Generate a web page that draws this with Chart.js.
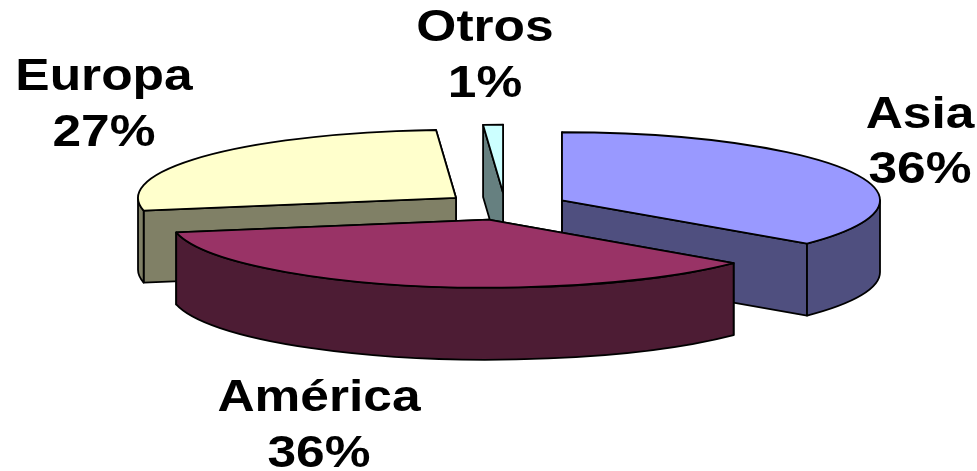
<!DOCTYPE html>
<html><head><meta charset="utf-8">
<style>html,body{margin:0;padding:0;background:#fff}#w{width:977px;height:471px}</style>
<script src="https://cdn.jsdelivr.net/npm/chart.js@4"></script>
</head><body><div id="w"><canvas id="c" width="977" height="471"></canvas></div>
<script>
// Back-to-front drawing order; Asia starts at twelve o'clock.
const categories = ['Europa', 'Otros', 'Asia', 'América'];
const shares = [27, 1, 36, 36];
const topColors = ['#FFFFCC', '#CCFFFF', '#9999FF', '#993366'];
const wallColors = ['#808066', '#668080', '#4F4F7F', '#4D1C34'];
const explosion = [62, 62, 63, 66];
const labelAnchors = [[104, 90, 146], [485, 41, 97], [920, 128, 183], [319, 411, 467]];

const view = { cx: 505, cy: 206, rx: 318, ry: 68, depth: 72, line: 1.8 };
const total = shares.reduce((a, b) => a + b, 0);
const rotation = -360 * (shares[0] + shares[1]) / total;

const pie3d = {
  id: 'pie3d',
  beforeDatasetDraw(chart) {
    const ctx = chart.ctx;
    chart.getDatasetMeta(0).data.forEach((arc, i) => {
      const { x, y, startAngle: a0, endAngle: a1, outerRadius: r } = arc.getProps(['x', 'y', 'startAngle', 'endAngle', 'outerRadius'], true);
      const mid = (a0 + a1) / 2;
      const ox = view.cx + Math.cos(mid) * explosion[i];
      const oy = view.cy + Math.sin(mid) * explosion[i] * view.ry / view.rx;
      const D = view.depth;
      const px = a => ox + view.rx * Math.cos(a), py = a => oy + view.ry * Math.sin(a);
      ctx.save();
      ctx.lineWidth = view.line;
      ctx.strokeStyle = '#000';
      ctx.lineJoin = 'round';
      ctx.fillStyle = wallColors[i];
      // cut faces: the far one first
      [a1, a0].forEach(a => {
        ctx.beginPath();
        ctx.moveTo(ox, oy); ctx.lineTo(px(a), py(a));
        ctx.lineTo(px(a), py(a) + D); ctx.lineTo(ox, oy + D);
        ctx.closePath(); ctx.fill(); ctx.stroke();
      });
      // outer wall, front half only
      for (let k = -2; k <= 2; k++) {
        const s = Math.max(a0, 2 * Math.PI * k), e = Math.min(a1, Math.PI + 2 * Math.PI * k);
        if (e <= s) continue;
        ctx.beginPath();
        ctx.ellipse(ox, oy, view.rx, view.ry, 0, s, e);
        ctx.ellipse(ox, oy + D, view.rx, view.ry, 0, e, s, true);
        ctx.closePath(); ctx.fill(); ctx.stroke();
      }
      ctx.restore();
      // top face: the library's own arc, squashed into perspective
      ctx.save();
      ctx.translate(ox, oy);
      ctx.scale(view.rx / r, view.ry / r);
      ctx.translate(-x, -y);
      arc.draw(ctx);
      ctx.restore();
      // outline of the top face
      ctx.save();
      ctx.lineWidth = view.line;
      ctx.strokeStyle = '#000';
      ctx.lineJoin = 'round';
      ctx.beginPath();
      ctx.moveTo(ox, oy);
      ctx.ellipse(ox, oy, view.rx, view.ry, 0, a0, a1);
      ctx.closePath(); ctx.stroke();
      ctx.restore();
    });
    return false;
  },
  afterDraw(chart) {
    const ctx = chart.ctx;
    ctx.save();
    ctx.fillStyle = '#000';
    ctx.textAlign = 'center';
    ctx.textBaseline = 'alphabetic';
    ctx.font = 'bold 44px "Liberation Sans", Arial, sans-serif';
    const put = (t, x, y) => {
      ctx.save(); ctx.translate(x, y); ctx.scale(1.17, 1); ctx.fillText(t, 0, 0); ctx.restore();
    };
    categories.forEach((name, i) => {
      const [x, y1, y2] = labelAnchors[i];
      put(name, x, y1);
      put(Math.round(100 * shares[i] / total) + '%', x, y2);
    });
    ctx.restore();
  }
};

new Chart(document.getElementById('c'), {
  type: 'pie',
  data: { labels: categories, datasets: [{ data: shares, backgroundColor: topColors, borderWidth: 0 }] },
  options: {
    responsive: false,
    animation: false,
    rotation,
    layout: { padding: 0 },
    plugins: { legend: { display: false }, tooltip: { enabled: false } }
  },
  plugins: [pie3d]
});
</script></body></html>
